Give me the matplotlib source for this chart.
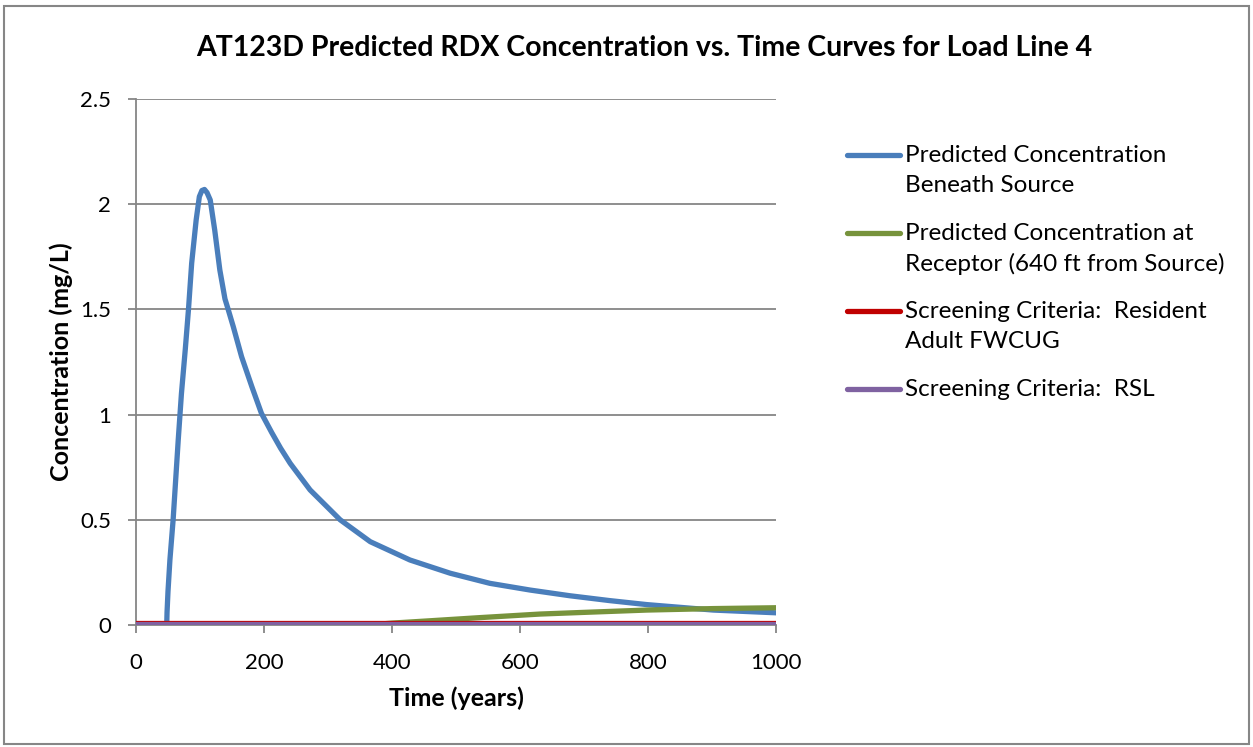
import matplotlib
matplotlib.use("Agg")
import matplotlib.pyplot as plt
from matplotlib.lines import Line2D
from matplotlib.patches import Rectangle

plt.rcParams['font.family'] = ['Lato', 'DejaVu Sans']

# Data
t_source = [48, 48.5, 50, 53, 58, 62, 66, 71, 77, 82, 87, 94, 99, 103, 107, 111, 116,
            123, 131, 139, 144, 152, 165, 181, 196, 212, 226, 241, 272, 319, 366, 428,
            491, 553, 616, 678, 740, 798, 902, 1000]
c_source = [0.0, 0.06, 0.16, 0.31, 0.5, 0.69, 0.88, 1.10, 1.31, 1.5, 1.72, 1.925, 2.036,
            2.065, 2.07, 2.055, 2.02, 1.877, 1.687, 1.55, 1.50, 1.418, 1.275, 1.133,
            1.006, 0.915, 0.84, 0.768, 0.642, 0.5, 0.396, 0.309, 0.246, 0.198, 0.166,
            0.139, 0.116, 0.097, 0.071, 0.058]

t_receptor = [0, 100, 200, 300, 380, 400, 459, 537, 631, 700, 798, 902, 1000]
c_receptor = [0.0, 0.0, 0.0, 0.0, 0.004, 0.009, 0.02, 0.035, 0.052, 0.06, 0.071, 0.078, 0.082]

t_crit = [0, 1000]
c_fwcug = [0.009, 0.009]
c_rsl = [0.006, 0.006]

labels = ["Predicted Concentration\nBeneath Source",
          "Predicted Concentration at\nReceptor (640 ft from Source)",
          "Screening Criteria:  Resident\nAdult FWCUG",
          "Screening Criteria:  RSL"]
colors = ['#4A7EBB', '#77933C', '#C00000', '#7F62A1']

W, H = 1253, 747
fig = plt.figure(figsize=(W / 100, H / 100), dpi=100)
ax = fig.add_axes([136 / W, 1 - 625 / H, 640 / W, 526 / H])

lw = 3.8
ax.plot(t_source, c_source, color=colors[0], lw=lw,
        solid_capstyle='round', solid_joinstyle='round', zorder=3)
ax.plot(t_receptor, c_receptor, color=colors[1], lw=lw,
        solid_capstyle='round', solid_joinstyle='round', zorder=4)
ax.plot(t_crit, c_fwcug, color=colors[2], lw=lw, solid_capstyle='round', zorder=5)
ax.plot(t_crit, c_rsl, color=colors[3], lw=lw, solid_capstyle='round', zorder=6)

ax.set_xlim(0, 1000)
ax.set_ylim(0, 2.5)
ax.set_xticks([0, 200, 400, 600, 800, 1000])
ax.set_yticks([0, 0.5, 1, 1.5, 2, 2.5])
ax.set_yticklabels(['0', '0.5', '1', '1.5', '2', '2.5'])
ax.yaxis.grid(True, color='#868686', lw=1.3)
ax.set_axisbelow(True)

for s in ['top', 'right']:
    ax.spines[s].set_visible(False)
for s in ['left', 'bottom']:
    ax.spines[s].set_color('#868686')
    ax.spines[s].set_linewidth(1.3)
ax.tick_params(axis='both', colors='#868686', labelcolor='black', labelsize=16,
               length=6, width=1.3, direction='out')
ax.tick_params(axis='y', pad=12)
ax.tick_params(axis='x', pad=14)

ax.set_xlabel('Time (years)', fontsize=18, fontweight='bold', labelpad=10)
ax.set_ylabel('Concentration (mg/L)', fontsize=18, fontweight='bold', labelpad=5)
fig.text(644 / W, 1 - 48 / H, 'AT123D Predicted RDX Concentration vs. Time Curves for Load Line 4',
         ha='center', va='center', fontsize=20.5, fontweight='bold')

# legend: handle aligned with the first line of each entry
entry_y = [155, 233, 311, 389]
for lab, col, y in zip(labels, colors, entry_y):
    fig.add_artist(Line2D([847 / W, 900 / W], [1 - y / H, 1 - y / H], color=col,
                          lw=lw, solid_capstyle='round', transform=fig.transFigure))
    for k, line in enumerate(lab.split('\n')):
        fig.text(905 / W, 1 - (y + 31 * k) / H, line, ha='left', va='center',
                 fontsize=17.5)

fig.patches.append(Rectangle((0.0035, 0.004), 0.993, 0.988, transform=fig.transFigure,
                             fill=False, edgecolor='#868686', lw=1.5))

fig.savefig('out.png', dpi=100)
